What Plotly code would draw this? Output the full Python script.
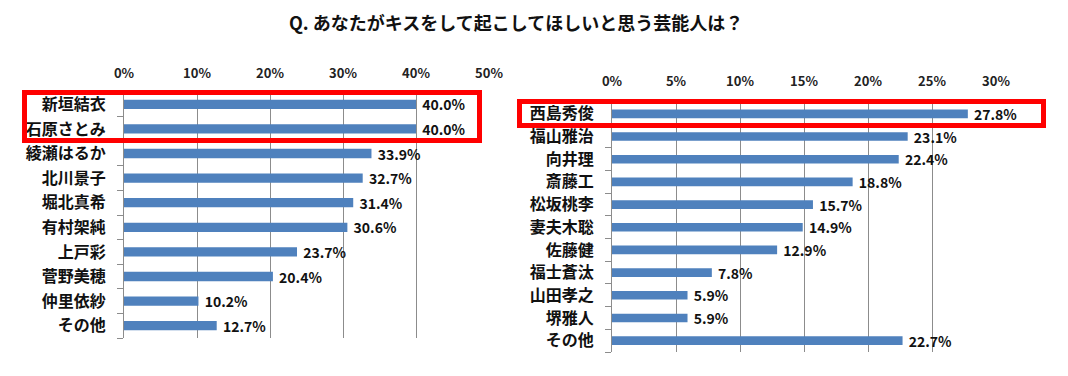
import plotly.graph_objects as go

title_text = "Q. あなたがキスをして起こしてほしいと思う芸能人は？"

left_names = ["新垣結衣", "石原さとみ", "綾瀬はるか", "北川景子", "堀北真希",
              "有村架純", "上戸彩", "菅野美穂", "仲里依紗", "その他"]
left_values = [40.0, 40.0, 33.9, 32.7, 31.4, 30.6, 23.7, 20.4, 10.2, 12.7]

right_names = ["西島秀俊", "福山雅治", "向井理", "斎藤工", "松坂桃李",
               "妻夫木聡", "佐藤健", "福士蒼汰", "山田孝之", "堺雅人", "その他"]
right_values = [27.8, 23.1, 22.4, 18.8, 15.7, 14.9, 12.9, 7.8, 5.9, 5.9, 22.7]

left_ticks = [0, 10, 20, 30, 40, 50]
right_ticks = [0, 5, 10, 15, 20, 25, 30]

W, H = 1068, 376
OFF = 8  # page body margin offset


def px(x):
    return (x - OFF) / W


def py(y):
    return 1 - (y - OFF) / H


FONT = "Noto Sans CJK JP"
BAR = "#4F81BD"
GRID = "#8C8C8C"

fig = go.Figure()


def bar_trace(values, names, xa, ya):
    return go.Bar(
        x=values, y=list(range(len(names))), orientation="h",
        marker=dict(color=BAR, line=dict(width=0)), width=0.38,
        text=[f"\u00a0{v:.1f}%" for v in values], textposition="outside",
        constraintext="none", textangle=0,
        textfont=dict(family=FONT, size=14, color="#111111", weight="bold"),
        cliponaxis=False, xaxis=xa, yaxis=ya, showlegend=False, hoverinfo="skip",
    )


fig.add_trace(bar_trace(left_values, left_names, "x", "y"))
fig.add_trace(bar_trace(right_values, right_names, "x2", "y2"))

xcommon = dict(side="top", ticks="", showgrid=True, gridcolor=GRID, automargin=False,
               gridwidth=1, zeroline=False, showline=False,
               tickfont=dict(family=FONT, size=13, color="#222222", weight="bold"))
ycommon = dict(showgrid=False, zeroline=False, showline=True, linecolor=GRID, linewidth=1,
               ticks="", automargin=False,
               tickfont=dict(family=FONT, size=16, color="#111111", weight="bold"),
               minor=dict(ticks="outside", ticklen=6, tickcolor=GRID, tick0=0.5, dtick=1,
                          showgrid=False))

fig.update_layout(
    template="none",
    width=W, height=H, margin=dict(l=0, r=0, t=0, b=0, autoexpand=False),
    paper_bgcolor="white", plot_bgcolor="white",
    font=dict(family=FONT),
    xaxis=dict(domain=[px(124), px(489)], range=[0, 50], tickvals=left_ticks,
               ticktext=[f"{t}%" for t in left_ticks],
               anchor="y", ticklabelstandoff=10, **xcommon),
    yaxis=dict(domain=[py(338), py(92)], range=[len(left_names) - 0.5, -0.5],
               tickvals=list(range(len(left_names))), ticktext=left_names,
               anchor="x", ticklabelstandoff=14, **ycommon),
    xaxis2=dict(domain=[px(612), px(996)], range=[0, 30], tickvals=right_ticks,
                ticktext=[f"{t}%" for t in right_ticks],
                anchor="y2", ticklabelstandoff=13, **xcommon),
    yaxis2=dict(domain=[py(352), py(102.5)], range=[len(right_names) - 0.5, -0.5],
                tickvals=list(range(len(right_names))), ticktext=right_names,
                anchor="x2", ticklabelstandoff=14, **ycommon),
    annotations=[dict(text=f"<b>{title_text}</b>", x=px(516), y=py(22), xref="paper",
                      yref="paper", xanchor="center", yanchor="middle", showarrow=False,
                      font=dict(family=FONT, size=18, color="#111111"))],
    shapes=[
        dict(type="rect", xref="paper", yref="paper", x0=px(24.5), x1=px(479.5),
             y0=py(140.5), y1=py(92.5), line=dict(color="#FF0000", width=5)),
        dict(type="rect", xref="paper", yref="paper", x0=px(519.5), x1=px(1043.5),
             y0=py(125.5), y1=py(101.5), line=dict(color="#FF0000", width=5)),
    ],
)

fig.write_html("out.html")
